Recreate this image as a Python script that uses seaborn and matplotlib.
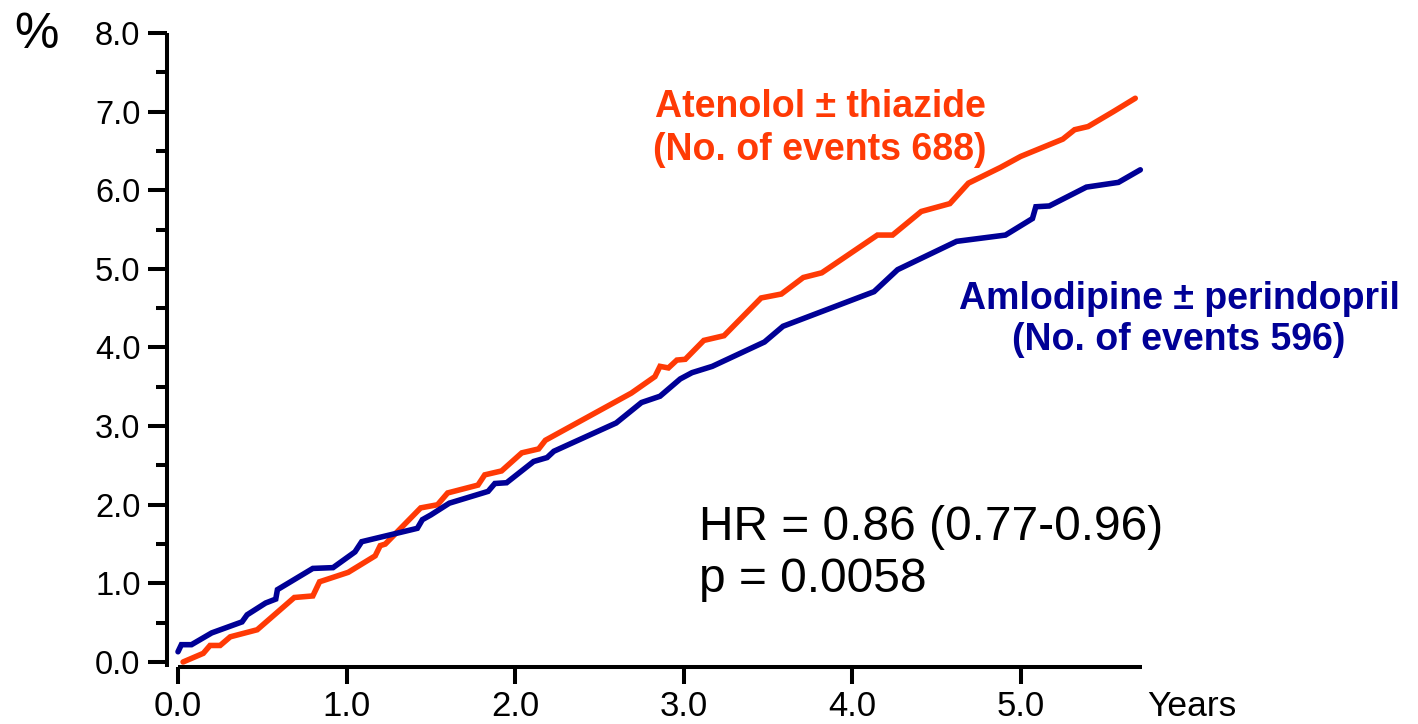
import numpy as np
import pandas as pd
import matplotlib
matplotlib.use("Agg")
import matplotlib.pyplot as plt
from matplotlib.ticker import MultipleLocator, FixedLocator
import seaborn as sns

# ---- data ----
ate_years = [0.03, 0.15, 0.19, 0.25, 0.31, 0.47, 0.69, 0.80, 0.84, 1.01, 1.17, 1.20, 1.23,
             1.44, 1.54, 1.60, 1.78, 1.82, 1.92, 2.04, 2.14, 2.18, 2.69, 2.83, 2.86, 2.91,
             2.96, 3.01, 3.12, 3.24, 3.46, 3.58, 3.71, 3.82, 4.15, 4.24, 4.41, 4.58, 4.69,
             4.88, 5.00, 5.25, 5.32, 5.40, 5.55, 5.68]
ate_pct = [0.00, 0.11, 0.21, 0.21, 0.32, 0.41, 0.82, 0.84, 1.02, 1.14, 1.35, 1.48, 1.50,
           1.96, 2.00, 2.15, 2.25, 2.38, 2.43, 2.66, 2.71, 2.82, 3.42, 3.63, 3.76, 3.74,
           3.84, 3.85, 4.09, 4.15, 4.63, 4.68, 4.89, 4.95, 5.43, 5.43, 5.73, 5.83, 6.09,
           6.29, 6.43, 6.65, 6.77, 6.81, 7.00, 7.17]

aml_years = [0.00, 0.02, 0.08, 0.20, 0.38, 0.41, 0.52, 0.58, 0.59, 0.80, 0.92, 1.05, 1.09,
             1.42, 1.45, 1.50, 1.61, 1.84, 1.88, 1.95, 2.11, 2.19, 2.23, 2.60, 2.75, 2.86,
             2.98, 3.05, 3.17, 3.48, 3.59, 4.13, 4.27, 4.62, 4.91, 5.07, 5.09, 5.17, 5.39,
             5.58, 5.71]
aml_pct = [0.13, 0.22, 0.22, 0.37, 0.51, 0.60, 0.75, 0.80, 0.92, 1.19, 1.20, 1.40, 1.53,
           1.70, 1.81, 1.87, 2.02, 2.17, 2.27, 2.28, 2.55, 2.60, 2.68, 3.04, 3.30, 3.38,
           3.60, 3.68, 3.76, 4.07, 4.27, 4.71, 4.99, 5.35, 5.43, 5.64, 5.79, 5.80, 6.04,
           6.10, 6.26]

groups = ["Atenolol ± thiazide", "Amlodipine ± perindopril"]
events = [688, 596]
colors = ["#FF3A05", "#000096"]
x_ticks = [0, 1, 2, 3, 4, 5]
y_ticks = [0, 1, 2, 3, 4, 5, 6, 7, 8]
hr_text = "HR = 0.86 (0.77-0.96)"
p_text = "p = 0.0058"

df = pd.concat([
    pd.DataFrame({"Years": ate_years, "pct": ate_pct, "group": groups[0]}),
    pd.DataFrame({"Years": aml_years, "pct": aml_pct, "group": groups[1]}),
])

sns.set_theme(style="ticks")
plt.rcParams["font.family"] = ["Liberation Sans", "DejaVu Sans"]
plt.rcParams["text.color"] = "black"
plt.rcParams["xtick.color"] = "black"
plt.rcParams["ytick.color"] = "black"
plt.rcParams["xtick.labelcolor"] = "black"
plt.rcParams["ytick.labelcolor"] = "black"

fig = plt.figure(figsize=(14.18, 7.24), dpi=100)
ax = fig.add_axes([178 / 1418, 57.3 / 724, (1142 - 178) / 1418, (666.7 - 33) / 724])

sns.lineplot(data=df, x="Years", y="pct", hue="group", palette=dict(zip(groups, colors)),
             estimator=None, sort=False, linewidth=4.0, legend=False, ax=ax)
for ln in ax.get_lines():
    ln.set_clip_on(False)
    ln.set_solid_joinstyle("miter")

ax.set_xlim(0, 5.72)
ax.set_ylim(-0.06, 8.0)
ax.set_xlabel("")
ax.set_ylabel("")

ax.spines["top"].set_visible(False)
ax.spines["right"].set_visible(False)
ax.spines["left"].set_position(("outward", 8))
for s in ("left", "bottom"):
    ax.spines[s].set_linewidth(2.9)
    ax.spines[s].set_color("black")
    ax.spines[s].set_capstyle("butt")

ax.xaxis.set_major_locator(FixedLocator(x_ticks))
ax.set_xticklabels([f"{v:.1f}" for v in x_ticks])
ax.yaxis.set_major_locator(FixedLocator(y_ticks))
ax.set_yticklabels([f"{v:.1f}" for v in y_ticks])
ax.yaxis.set_minor_locator(MultipleLocator(0.5))
ax.tick_params(axis="y", which="major", length=14, width=2.9, labelsize=23.5, pad=5,
               color="black", labelcolor="black")
ax.tick_params(axis="y", which="minor", length=8, width=2.9, color="black")
ax.tick_params(axis="x", which="major", length=12, width=2.9, labelsize=25, pad=5,
               color="black", labelcolor="black")
ax.tick_params(axis="x", which="minor", length=0)

# series labels
ax.text(3.81, 6.93, "Atenolol ± thiazide", color=colors[0], fontsize=27, fontweight="bold",
        ha="center", va="baseline")
ax.text(3.81, 6.39, f"(No. of events {events[0]})", color=colors[0], fontsize=27,
        fontweight="bold", ha="center", va="baseline")
ax.text(5.94, 4.49, "Amlodipine ± perindopril", color=colors[1], fontsize=27, fontweight="bold",
        ha="center", va="baseline", clip_on=False)
ax.text(5.94, 3.97, f"(No. of events {events[1]})", color=colors[1], fontsize=27,
        fontweight="bold", ha="center", va="baseline", clip_on=False)

# statistics
ax.text(3.09, 1.55, hr_text, fontsize=34.5, color="black", ha="left", va="baseline")
ax.text(3.09, 0.89, p_text, fontsize=34.5, color="black", ha="left", va="baseline")

# axis captions
fig.text(1147 / 1418, 1 - 716 / 724, "Years", fontsize=25.5, color="black", ha="left", va="baseline")
fig.text(14 / 1418, 1 - 48 / 724, "%", fontsize=36, color="black", ha="left", va="baseline")

fig.savefig("out.png", dpi=100, facecolor="white")
